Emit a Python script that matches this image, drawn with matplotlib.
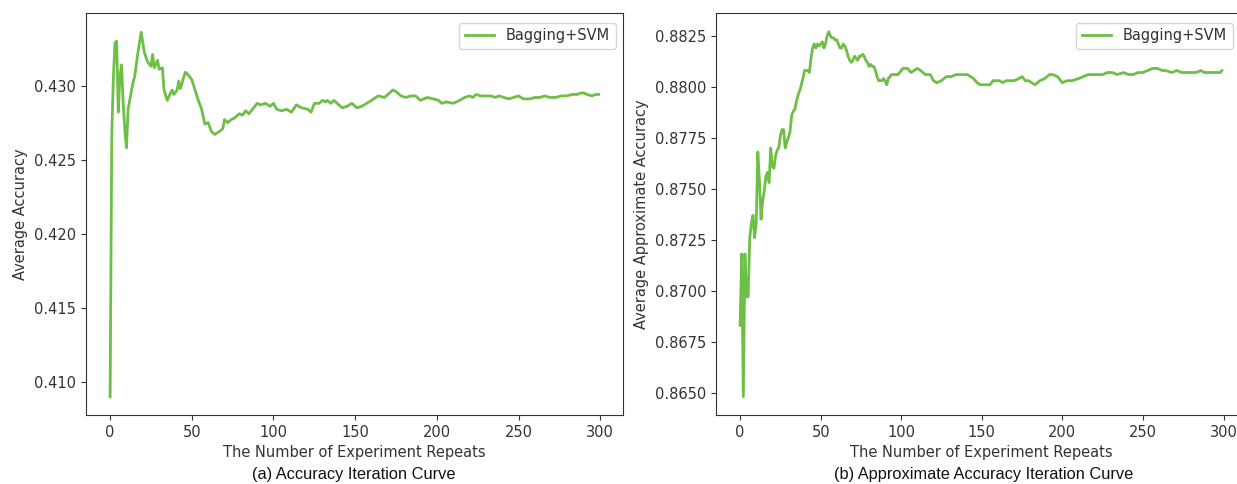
import matplotlib
matplotlib.use("Agg")
import matplotlib.pyplot as plt
from matplotlib.ticker import MultipleLocator

# ---------------- data ----------------
repeats_a = [0, 1, 2, 3, 4, 5, 6, 7, 8, 9, 10, 11, 12, 14, 15, 17, 19, 21, 23, 25, 26, 27, 29, 30,
             32, 33, 35, 37, 38, 39, 41, 42, 43, 46, 48, 50, 52, 54, 56, 58, 60, 62, 64, 67, 69,
             70, 72, 74, 76, 79, 81, 83, 85, 90, 92, 95, 98, 100, 102, 105, 108, 111, 114, 117,
             121, 123, 125, 128, 130, 132, 133, 135, 137, 140, 142, 145, 148, 151, 154, 157, 160,
             164, 168, 171, 173, 175, 178, 181, 184, 187, 190, 194, 198, 201, 203, 206, 210, 214,
             217, 220, 222, 224, 227, 230, 233, 236, 238, 241, 244, 247, 250, 253, 257, 260, 263,
             266, 269, 273, 276, 279, 283, 286, 288, 290, 292, 295, 297, 299]
accuracy_a = [0.4090, 0.4266, 0.4306, 0.4329, 0.4330, 0.4282, 0.4306, 0.4314, 0.4288, 0.4270,
              0.4258, 0.4284, 0.4290, 0.4302, 0.4306, 0.4322, 0.4336, 0.4322, 0.4316, 0.4313,
              0.4321, 0.4312, 0.4317, 0.4311, 0.4312, 0.4297, 0.4290, 0.4295, 0.4297, 0.4294,
              0.4297, 0.4303, 0.4298, 0.4309, 0.4307, 0.4304, 0.4297, 0.4290, 0.4284, 0.4274,
              0.4275, 0.4269, 0.4267, 0.4269, 0.4271, 0.4277, 0.4275, 0.4277, 0.4278, 0.4281,
              0.4280, 0.4283, 0.4281, 0.4288, 0.4287, 0.4288, 0.4286, 0.4288, 0.4284, 0.4283,
              0.4284, 0.4282, 0.4287, 0.4285, 0.4284, 0.4282, 0.4288, 0.4288, 0.4290, 0.4289,
              0.4290, 0.4288, 0.4290, 0.4287, 0.4285, 0.4286, 0.4288, 0.4285, 0.4286, 0.4288,
              0.4290, 0.4293, 0.4292, 0.4295, 0.4297, 0.4296, 0.4293, 0.4292, 0.4293, 0.4293,
              0.4290, 0.4292, 0.4291, 0.4290, 0.4288, 0.4289, 0.4288, 0.4290, 0.4292, 0.4293,
              0.4292, 0.4294, 0.4293, 0.4293, 0.4293, 0.4292, 0.4293, 0.4292, 0.4291, 0.4292,
              0.4293, 0.4291, 0.4291, 0.4292, 0.4292, 0.4293, 0.4292, 0.4292, 0.4293, 0.4293,
              0.4294, 0.4294, 0.4295, 0.4295, 0.4294, 0.4293, 0.4294, 0.4294]

repeats_b = list(range(0, 100)) + [101, 104, 106, 108, 110, 112, 115, 118, 120, 122, 125, 128,
             131, 134, 137, 139, 141, 143, 145, 147, 149, 151, 155, 157, 159, 161, 163, 165, 167,
             170, 173, 175, 177, 179, 183, 186, 189, 192, 194, 197, 200, 203, 206, 210, 213, 216,
             219, 222, 225, 228, 231, 234, 238, 241, 244, 247, 250, 253, 256, 259, 262, 264, 268,
             271, 274, 277, 280, 283, 286, 288, 291, 295, 298, 299]
approx_acc_b = [0.8683, 0.8718, 0.8648, 0.8718, 0.8697, 0.8697, 0.8726, 0.8733, 0.8737, 0.8726,
                0.8733, 0.8768, 0.8754, 0.8735, 0.8744, 0.8749, 0.8756, 0.8758, 0.8753, 0.8770,
                0.8761, 0.8760, 0.8766, 0.8769, 0.8770, 0.8776, 0.8779, 0.8779, 0.8770, 0.8773,
                0.8775, 0.8778, 0.8786, 0.8788, 0.8789, 0.8793, 0.8796, 0.8798, 0.8801, 0.8804,
                0.8808, 0.8808, 0.8808, 0.8807, 0.8814, 0.8819, 0.8821, 0.8819, 0.8821, 0.8820,
                0.8821, 0.8822, 0.8819, 0.8821, 0.8825, 0.8827, 0.8825, 0.8824, 0.8824, 0.8823,
                0.8823, 0.8821, 0.8819, 0.8819, 0.8821, 0.8820, 0.8818, 0.8815, 0.8813, 0.8812,
                0.8813, 0.8815, 0.8814, 0.8813, 0.8815, 0.8815, 0.8816, 0.8815, 0.8813, 0.8812,
                0.8810, 0.8811, 0.8810, 0.8810, 0.8808, 0.8805, 0.8803, 0.8803, 0.8803, 0.8804,
                0.8803, 0.8801, 0.8804, 0.8805, 0.8806, 0.8806, 0.8806, 0.8806, 0.8806, 0.8807,
                0.8809, 0.8809, 0.8807, 0.8808, 0.8809, 0.8808, 0.8806, 0.8806, 0.8803, 0.8802,
                0.8803, 0.8805, 0.8805, 0.8806, 0.8806, 0.8806, 0.8806, 0.8805, 0.8804, 0.8802,
                0.8801, 0.8801, 0.8801, 0.8803, 0.8803, 0.8803, 0.8802, 0.8803, 0.8803, 0.8803,
                0.8804, 0.8805, 0.8803, 0.8803, 0.8801, 0.8803, 0.8804, 0.8806, 0.8806, 0.8805,
                0.8802, 0.8803, 0.8803, 0.8804, 0.8805, 0.8806, 0.8806, 0.8806, 0.8806, 0.8807,
                0.8807, 0.8806, 0.8807, 0.8806, 0.8806, 0.8807, 0.8807, 0.8808, 0.8809, 0.8809,
                0.8808, 0.8808, 0.8807, 0.8808, 0.8807, 0.8807, 0.8807, 0.8807, 0.8808, 0.8807,
                0.8807, 0.8807, 0.8807, 0.8808]

series_label = "Bagging+SVM"
xlabel = "The Number of Experiment Repeats"
ylabel_a = "Average Accuracy"
ylabel_b = "Average Approximate Accuracy"
caption_a = "(a) Accuracy Iteration Curve"
caption_b = "(b) Approximate Accuracy Iteration Curve"

# ---------------- figure ----------------
plt.rcParams['font.family'] = ['DejaVu Sans']
plt.rcParams['font.size'] = 10.5

W, H = 1237, 484
fig = plt.figure(figsize=(W / 100, H / 100), dpi=100)

line_color = '#6dbf45'
text_color = '#333333'

def px_rect(x0, x1, ytop, ybot):
    return [x0 / W, 1 - ybot / H, (x1 - x0) / W, (ybot - ytop) / H]

ax_a = fig.add_axes(px_rect(85.7, 623, 13.4, 415))
ax_b = fig.add_axes(px_rect(716, 1246, 13.4, 415))

for ax, xs, ys, ylab, ystep, anchor in [
        (ax_a, repeats_a, accuracy_a, ylabel_a, 0.005, (0.987, 0.977)),
        (ax_b, repeats_b, approx_acc_b, ylabel_b, 0.0025, (0.9755, 0.977))]:
    ax.plot(xs, ys, color=line_color, lw=2.0, label=series_label)
    ax.set_xlim(-14.95, 313.95)
    ax.xaxis.set_major_locator(MultipleLocator(50))
    ax.yaxis.set_major_locator(MultipleLocator(ystep))
    ax.set_xlabel(xlabel, color=text_color, fontsize=10.5)
    ax.set_ylabel(ylab, color=text_color, fontsize=10.5)
    ax.tick_params(colors=text_color, labelsize=10.5)
    for s in ax.spines.values():
        s.set_color('#333333')
    ax.legend(loc='upper right', bbox_to_anchor=anchor, borderaxespad=0,
              fontsize=10.5, labelcolor=text_color)

ax_a.set_ylim(0.40777, 0.43487)
ax_b.set_ylim(0.8639, 0.8836)

cap_font = ['Liberation Sans Narrow', 'Liberation Sans', 'DejaVu Sans']
fig.text(354 / W, 1 - 474 / H, caption_a, ha='center', va='center',
         fontsize=11.8, family=cap_font, color='#111111')
fig.text(984 / W, 1 - 474 / H, caption_b, ha='center', va='center',
         fontsize=11.8, family=cap_font, color='#111111')

fig.savefig('out.png', dpi=100)
